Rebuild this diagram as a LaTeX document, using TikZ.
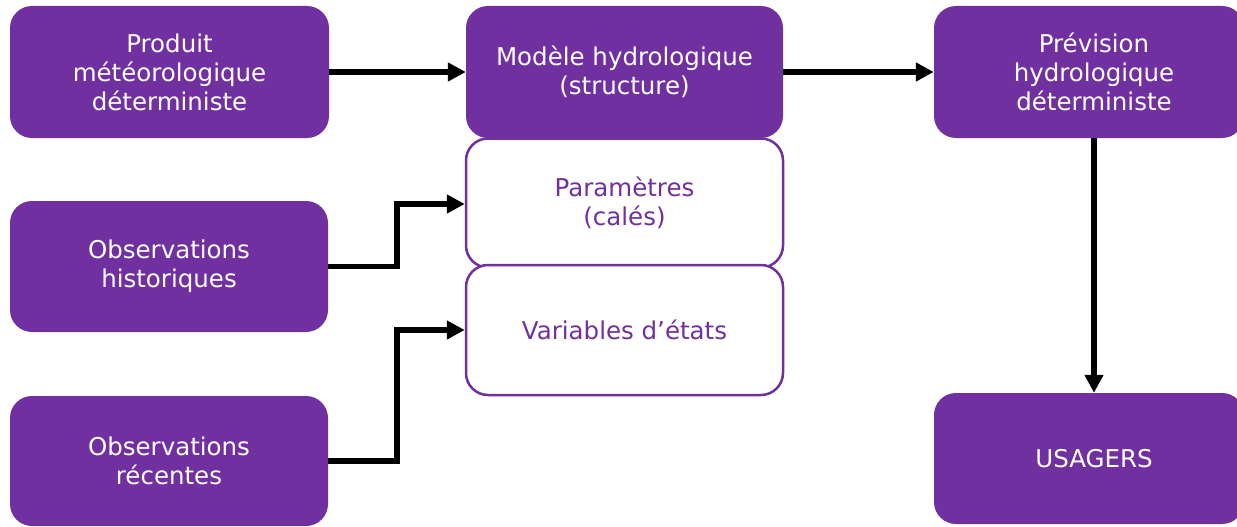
\documentclass[tikz,border=0pt]{standalone}
\usepackage{fontspec}
\setmainfont{DejaVu Sans}
\usetikzlibrary{arrows.meta}
\definecolor{violet}{HTML}{7030A0}
\tikzset{
  label font/.style={font=\fontsize{24.5}{29}\selectfont},
  box/.style={rounded corners=22pt, inner sep=0pt, align=center, label font},
  filled/.style={box, fill=violet, text=white},
  outlined/.style={box, draw=violet, line width=2.5pt, fill=white, text=violet},
  link/.style={line width=5.5pt, -{Triangle[length=18pt,width=18pt]}}
}
\begin{document}
\begin{tikzpicture}[x=1pt,y=-1pt]
  \useasboundingbox (0,0) rectangle (1237,527);
  \clip (0,0) rectangle (1237,527);
  % sources
  \node[filled, minimum width=319pt, minimum height=132pt] (prod) at (169.5,72)
    {Produit\\météorologique\\déterministe};
  \node[filled, minimum width=318pt, minimum height=131pt] (hist) at (169,266.5)
    {Observations\\historiques};
  \node[filled, minimum width=318pt, minimum height=130pt] (rec) at (169,461)
    {Observations\\récentes};
  % model column
  \node[filled, minimum width=317pt, minimum height=132pt] (mod) at (624.5,72)
    {Modèle hydrologique\\(structure)};
  \node[outlined, minimum width=317pt, minimum height=129pt] (par) at (624.5,203)
    {Paramètres\\(calés)};
  \node[outlined, minimum width=317pt, minimum height=130pt] (var) at (624.5,330)
    {Variables d’états};
  % outputs (boxes run past the right edge)
  \node[filled, minimum width=310pt, minimum height=132pt] (prev) at (1089,72) {};
  \node[text=white, align=center, label font] (prevtxt) at (1094,72)
    {Prévision\\hydrologique\\déterministe};
  \node[filled, minimum width=310pt, minimum height=131pt] (usa) at (1089,458.5) {};
  \node[text=white, label font] (usatxt) at (1094,458.5) {USAGERS};
  % connectors
  \draw[link] (prod.east) -- (mod.west);
  \draw[link] (mod.east) -- (prev.west);
  \coordinate (k1) at (397,204);
  \coordinate (k2) at (397,330);
  \draw[link] (hist.east) -| (k1) -- (k1 -| par.west);
  \draw[link] (rec.east) -| (k2) -- (k2 -| var.west);
  \draw[link] (prev.south -| usatxt) -- (usa.north -| usatxt);
\end{tikzpicture}
\end{document}
